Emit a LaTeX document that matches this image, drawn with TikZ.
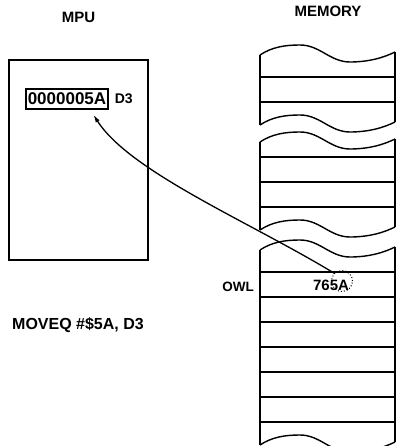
\documentclass[tikz,border=0pt]{standalone}
\usepackage{fontspec}
\setmainfont{Liberation Sans}
\usepackage{tikz}
\usetikzlibrary{arrows.meta,positioning}
\tikzset{
    rotulo/.style={
        font=\fontsize{15}{18}\selectfont\bfseries,
        inner sep=0pt,
        anchor=base
    },
    registrador/.style={
        rectangle,
        draw,
        line width=1.3pt,
        font=\fontsize{17}{20}\selectfont\bfseries,
        minimum width=82pt,
        minimum height=20pt,
        inner sep=0pt
    },
    memoria/.style={line width=1.4pt},
    fluxo/.style={-{Latex[length=8pt,width=4.5pt]}, line width=1.3pt},
    onda/.pic={
        \draw[memoria] (0,0) .. controls (12,-8) and (25,-10) .. (40,-10)
            .. controls (60,-10) and (70,7) .. (90,7)
            .. controls (110,7) and (125,2) .. (135,-3);
    }
}

\begin{document}
\begin{tikzpicture}[x=1pt, y=-1pt]
        \useasboundingbox (0,0) rectangle (397,446);
        % titulos
        \node[rotulo] (mpu) at (78.5,23) {MPU};
        \node[rotulo] (mem) at (328,17) {MEMORY};
        % processador
        \draw[line width=1.4pt] (9,60) rectangle (148,260);
        \node[registrador] (reg) at (67,99) {0000005A};
        \node[rotulo, font=\fontsize{14}{17}\selectfont\bfseries, anchor=west,
            right=6pt of reg] (d3) {D3};
        \node[rotulo, anchor=base west] (instr) at (12,329)
            {\fontsize{16}{19}\selectfont MOVEQ \#\$5A, D3};
        % memoria
        \foreach \topo/\base in {55/125, 142/230, 250/445} {
            \draw[memoria] (260,\topo) -- (260,\base);
            \draw[memoria] (395,\topo-3) -- (395,\base-3);
            \pic at (260,\topo) {onda};
            \pic at (260,\base) {onda};
        }
        \foreach \y in {77,102,157,182,207,272,297,...,422}
            \draw[memoria] (260,\y) -- (395,\y);
        \node[rotulo, font=\fontsize{13.5}{16}\selectfont\bfseries] (owl)
            at (238,291) {OWL};
        \node[rotulo] (valor) at (331,290) {765A};
        \node[circle, draw, dotted, line width=1pt, minimum size=21pt,
            inner sep=0pt] (src) at (342,281) {};
        \draw[fluxo] (src.north west) .. controls (250,222) and (130,172)
            .. ([yshift=-5pt]reg.-22);
    \end{tikzpicture}
\end{document}
